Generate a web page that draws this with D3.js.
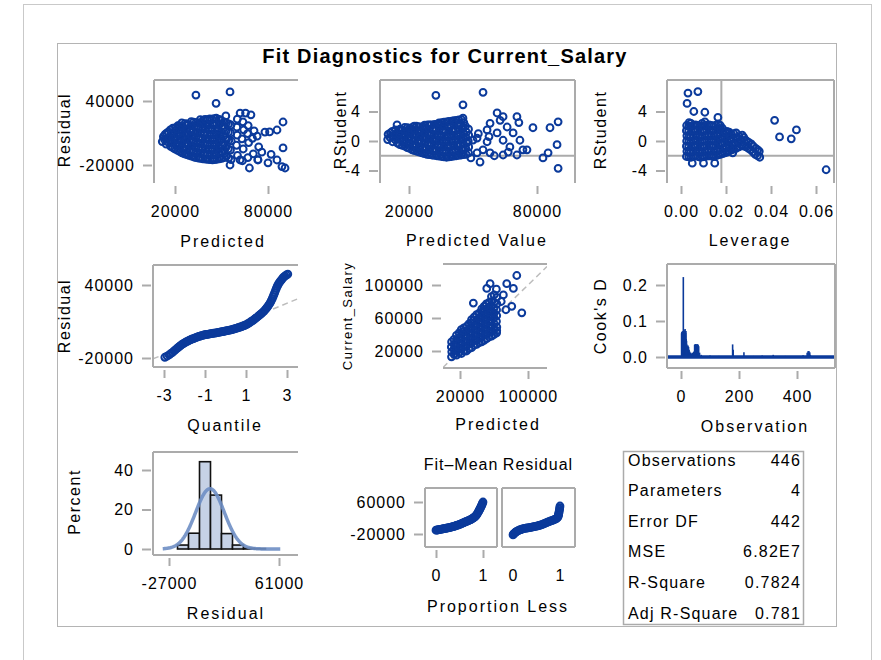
<!DOCTYPE html>
<html>
<head>
<meta charset="utf-8">
<script src="https://cdn.jsdelivr.net/npm/d3@7"></script>
<style>
  body { margin: 0; background: #fff; }
  text { font-family: "Liberation Sans", Arial, sans-serif; fill: #000; }
</style>
</head>
<body>
<svg id="chart" width="881" height="660"></svg>
<script>
// ---------------- data ----------------
const chartTitle = "Fit Diagnostics for Current_Salary";

// Residual vs predicted value: [predicted, residual]
const residByPredicted = [
  [11800,2000],[12500,6500],
  [14300,-500],[14800,4200],[14600,9800],
  [17200,-2500],[16800,2500],[17500,7800],[17000,13000],
  [19800,-5000],[20300,300],[20100,5200],[19700,10200],[20400,15000],
  [23200,-7500],[22800,-2300],[23100,2800],[22700,7600],[23300,12400],[22900,17000],
  [26100,-9500],[25800,-4600],[26300,400],[25900,5100],[26200,9900],[25700,14600],[26400,18800],
  [29000,-11000],[29300,-6200],[28800,-1500],[29200,3300],[28900,8100],[29400,12800],[28700,17500],
  [32100,-12500],[31800,-7800],[32300,-3000],[31900,1800],[32200,6500],[31700,11300],[32400,16000],[32000,20200],
  [35200,-13500],[34800,-8800],[35100,-4000],[34900,700],[35300,5400],[34700,10200],[35000,14900],[35400,19600],
  [38000,-14200],[38300,-9500],[37800,-4800],[38200,-100],[37900,4700],[38400,9400],[38100,14100],[37700,18800],[38300,22000],
  [41100,-14800],[40800,-10000],[41300,-5300],[40900,-600],[41200,4100],[40700,8900],[41400,13600],[41000,18300],[40800,22500],
  [44200,-15200],[43800,-10500],[44100,-5800],[43900,-1000],[44300,3700],[43700,8400],[44000,13100],[44400,17800],[43800,23000],
  [47100,-14600],[46800,-9900],[47300,-5200],[46900,-500],[47200,4200],[46700,9000],[47400,13700],[47000,18400],[46600,24000],
  [50200,-13800],[49800,-7500],[50300,-1800],[49900,4500],[50100,10500],[50400,16800],[49700,22000],
  [53100,-12000],[52700,-4000],[53300,3800],[52900,11500],[53200,19500],[52800,26000],
  [56200,-15000],[55800,-6000],[56300,2500],[55900,10000],[56100,17500],
  [60300,-11000],[59700,-1500],[60100,8000],[59900,15500],[60200,23000],
  [63500,-16000],[64000,-5000],[63200,4500],[64300,13000],[63800,20500],
  [67000,-13000],[67500,1000],[66800,9500],[67200,17000],
  [70500,-9500],[70000,5000],[71000,12000],
  [73500,-15000],[74000,-3000],[73000,7000],
  [13200,4000],[13600,8800],
  [15900,1000],[16100,5800],[15700,11000],
  [18600,-3800],[18400,400],[18700,5300],[18500,10300],[18600,14500],
  [21700,-6200],[21400,-1000],[21600,4000],[21500,8900],[21300,13700],[21800,16800],
  [24500,-8600],[24700,-3500],[24300,1500],[24600,6300],[24400,11200],[24700,16000],[24400,19500],
  [27600,-10300],[27400,-5400],[27700,-600],[27300,4200],[27600,9000],[27500,13800],[27800,18500],
  [30600,-11700],[30400,-7000],[30700,-2200],[30500,2600],[30600,7400],[30300,12100],[30700,16900],[30500,20600],
  [33600,-13000],[33400,-8300],[33700,-3500],[33500,1300],[33600,6000],[33300,10800],[33700,15500],[33500,19800],
  [36600,-13800],[36400,-9100],[36700,-4400],[36500,300],[36600,5100],[36400,9800],[36700,14500],[36500,19200],[36300,22500],
  [39600,-14500],[39400,-9700],[39700,-5000],[39500,-300],[39600,4400],[39300,9100],[39700,13900],[39500,18600],[39400,22800],
  [42600,-15000],[42400,-10200],[42700,-5500],[42500,-800],[42600,3900],[42300,8600],[42700,13300],[42500,18000],[42400,23200],
  [45600,-14900],[45400,-10200],[45700,-5500],[45500,-700],[45600,4000],[45300,8700],[45700,13400],[45500,18100],[45300,23500],
  [48600,-14200],[48400,-8700],[48700,-3500],[48500,2000],[48600,7500],[48300,13000],[48700,18000],[48500,22800],
  [51600,-13000],[51400,-6000],[51700,0],[51500,7500],[51300,14000],[51600,20500],
  [54600,-13500],[54400,-5000],[54700,3000],[54500,10800],[54600,18500],
  [33500,45600],[46500,37800],[55500,48500],[62000,28700],[65500,28700],[69000,27000],
  [89700,20300],[85800,12800],[78000,10900],[81000,11000],
  [89700,-4000],[85800,-15300],[91000,-22800],[89000,-21500],
  [55500,-20000],[68000,-22800],[73500,-15300],[62000,-15300],[80000,-18000],[76000,-8000],[82000,-10000]
];

// Studentized residual vs predicted value: [predicted, rstudent]
const rstudentByPredicted = [
  [10000,0.2],[10200,0.9],
  [12300,-0.1],[12500,0.6],[12200,1.3],
  [14600,-0.3],[14400,0.4],[14700,1.1],[14400,2.2],
  [16900,-0.6],[17100,0.1],[16800,0.8],[17000,1.5],
  [19200,-0.9],[19000,-0.2],[19400,0.5],[19100,1.2],[19300,1.8],
  [21500,-1.2],[21700,-0.5],[21300,0.2],[21600,0.9],[21400,1.6],[21800,1.9],
  [23800,-1.4],[23600,-0.7],[24000,0.0],[23700,0.7],[23900,1.4],[23500,2.0],
  [26100,-1.6],[26300,-0.9],[25900,-0.2],[26200,0.5],[26000,1.2],[26400,1.9],
  [28400,-1.8],[28200,-1.1],[28600,-0.4],[28300,0.3],[28500,1.0],[28100,1.7],[28700,2.2],
  [30700,-1.9],[30900,-1.2],[30500,-0.5],[30800,0.2],[30600,0.9],[31000,1.6],[30400,2.2],
  [33000,-2.0],[32800,-1.3],[33200,-0.6],[32900,0.1],[33100,0.8],[32700,1.5],[33300,2.3],
  [35300,-2.1],[35500,-1.4],[35100,-0.7],[35400,0.0],[35200,0.7],[35600,1.4],[35000,2.1],[35400,2.5],
  [37600,-2.2],[37400,-1.5],[37800,-0.8],[37500,-0.1],[37700,0.6],[37300,1.3],[37900,2.0],[37600,2.6],
  [39900,-2.1],[40100,-1.4],[39700,-0.7],[40000,0.0],[39800,0.7],[40200,1.4],[39600,2.1],[40000,2.7],
  [42200,-2.0],[42000,-1.3],[42400,-0.6],[42100,0.1],[42300,0.8],[41900,1.5],[42500,2.2],[42200,2.8],
  [44500,-1.9],[44700,-1.2],[44300,-0.5],[44600,0.2],[44400,0.9],[44800,1.6],[44200,2.3],[44600,2.9],
  [46800,-1.8],[46600,-1.0],[47000,-0.3],[46700,0.5],[46900,1.2],[46500,2.0],
  [11100,0.5],[11300,1.1],
  [13500,0.2],[13400,0.9],[13600,1.5],
  [15700,-0.5],[15800,0.2],[15600,0.9],[15800,1.6],
  [18000,-0.7],[18100,-0.05],[17900,0.65],[18100,1.35],[18000,1.85],
  [20300,-1.0],[20400,-0.35],[20200,0.35],[20400,1.05],[20300,1.7],
  [22600,-1.3],[22700,-0.6],[22500,0.1],[22700,0.8],[22600,1.5],[22500,2.0],
  [24900,-1.5],[25000,-0.8],[24800,-0.1],[25000,0.6],[24900,1.3],[24800,1.95],
  [27200,-1.7],[27300,-1.0],[27100,-0.3],[27300,0.4],[27200,1.1],[27100,1.8],[27300,2.15],
  [29500,-1.85],[29600,-1.15],[29400,-0.45],[29600,0.25],[29500,0.95],[29400,1.65],[29600,2.2],
  [31800,-1.95],[31900,-1.25],[31700,-0.55],[31900,0.15],[31800,0.85],[31700,1.55],[31900,2.25],
  [34100,-2.05],[34200,-1.35],[34000,-0.65],[34200,0.05],[34100,0.75],[34000,1.45],[34200,2.15],[34100,2.45],
  [36400,-2.15],[36500,-1.45],[36300,-0.75],[36500,-0.05],[36400,0.65],[36300,1.35],[36500,2.05],[36400,2.55],
  [38700,-2.15],[38800,-1.45],[38600,-0.75],[38800,-0.05],[38700,0.65],[38600,1.35],[38800,2.05],[38700,2.65],
  [41000,-2.05],[41100,-1.35],[40900,-0.65],[41100,0.05],[41000,0.75],[40900,1.45],[41100,2.15],[41000,2.75],
  [43300,-1.95],[43400,-1.25],[43200,-0.55],[43400,0.15],[43300,0.85],[43200,1.55],[43400,2.25],[43300,2.85],
  [45600,-1.85],[45700,-1.1],[45500,-0.4],[45700,0.35],[45600,1.05],[45500,1.8],[45700,2.5],
  [47900,-1.6],[48000,-0.8],[47800,0.0],[48000,0.8],[47900,1.6],
  [50000,0.13],[51900,-1.6],[54700,-1.2],[53300,-2.85],[56600,1.5],[58000,2.4],[61300,3.8],[62700,2.8],
  [61300,1.1],[64100,0.1],[66000,1.9],[67300,-0.8],[64100,3.3],[70600,3.3],[68800,1.1],[72000,0.1],
  [73400,-1.2],[70600,-1.9],[64100,-1.9],[58000,-1.6],[56600,-0.1],[51900,0.4],[45300,4.9],[45300,3.1],
  [32600,6.2],[54700,6.6],[78100,1.8],[86100,1.8],[89900,2.6],[89900,-3.7],[82800,-2.3],[85200,-1.6],
  [89400,-0.5],[75300,-1.2],[49000,-2.3],[60000,-2.0],[57500,0.6],[52500,1.0],[66500,-1.5],[71500,2.5]
];

// Studentized residual vs leverage: [leverage, rstudent]
const rstudentByLeverage = [
  [0.0024,-2.1],[0.0026,-1.4],[0.0024,-0.7],[0.0025,0.0],[0.0026,0.7],[0.0024,1.4],[0.0025,2.1],
  [0.0045,-2.2],[0.0044,-1.5],[0.0046,-0.8],[0.0045,-0.1],[0.0044,0.6],[0.0046,1.3],[0.0045,2.0],[0.0044,2.4],
  [0.0065,-2.0],[0.0066,-1.3],[0.0064,-0.6],[0.0065,0.1],[0.0066,0.8],[0.0064,1.5],[0.0065,2.2],
  [0.0085,-2.2],[0.0084,-1.5],[0.0086,-0.8],[0.0085,-0.1],[0.0084,0.6],[0.0086,1.3],[0.0085,2.0],
  [0.0105,-2.1],[0.0106,-1.4],[0.0104,-0.7],[0.0105,0.0],[0.0106,0.7],[0.0104,1.4],[0.0105,2.1],[0.0106,2.6],
  [0.0125,-2.0],[0.0124,-1.3],[0.0126,-0.6],[0.0125,0.1],[0.0124,0.8],[0.0126,1.5],[0.0125,2.2],
  [0.0145,-2.1],[0.0146,-1.4],[0.0144,-0.7],[0.0145,0.0],[0.0146,0.7],[0.0144,1.4],[0.0145,2.0],
  [0.0165,-1.9],[0.0164,-1.2],[0.0166,-0.5],[0.0165,0.2],[0.0164,0.9],[0.0166,1.6],[0.0165,2.3],
  [0.0185,-1.7],[0.0186,-1.0],[0.0184,-0.3],[0.0185,0.4],[0.0186,1.1],[0.0184,1.7],
  [0.0205,-1.5],[0.0204,-0.8],[0.0206,-0.1],[0.0205,0.6],[0.0204,1.3],
  [0.0225,-1.2],[0.0226,-0.5],[0.0224,0.2],[0.0225,0.9],
  [0.0245,-1.0],[0.0244,-0.3],[0.0246,0.4],[0.0245,1.1],
  [0.0270,-0.6],[0.0268,0.1],[0.0272,0.8],
  [0.0290,-0.8],[0.0292,0.0],
  [0.0310,-1.2],[0.0312,-0.4],
  [0.0330,-1.8],[0.0332,-1.0],
  [0.0350,-2.2],[0.0348,-1.4],
  [0.0035,-2.15],[0.0036,-1.45],[0.0034,-0.75],[0.0035,-0.05],[0.0036,0.65],[0.0034,1.35],[0.0035,2.05],[0.0036,2.5],
  [0.0055,-2.1],[0.0054,-1.4],[0.0056,-0.7],[0.0055,0.0],[0.0054,0.7],[0.0056,1.4],[0.0055,2.1],
  [0.0075,-2.1],[0.0076,-1.4],[0.0074,-0.7],[0.0075,0.0],[0.0076,0.7],[0.0074,1.4],[0.0075,2.1],
  [0.0095,-2.15],[0.0094,-1.45],[0.0096,-0.75],[0.0095,-0.05],[0.0094,0.65],[0.0096,1.35],[0.0095,2.05],[0.0094,2.4],
  [0.0115,-2.05],[0.0116,-1.35],[0.0114,-0.65],[0.0115,0.05],[0.0116,0.75],[0.0114,1.45],[0.0115,2.15],
  [0.0135,-2.05],[0.0134,-1.35],[0.0136,-0.65],[0.0135,0.05],[0.0134,0.75],[0.0136,1.45],[0.0135,2.1],
  [0.0155,-2.0],[0.0156,-1.3],[0.0154,-0.6],[0.0155,0.1],[0.0156,0.8],[0.0154,1.5],[0.0155,2.15],
  [0.0175,-1.8],[0.0174,-1.1],[0.0176,-0.4],[0.0175,0.3],[0.0174,1.0],[0.0176,1.65],[0.0175,2.1],
  [0.0195,-1.6],[0.0196,-0.9],[0.0194,-0.2],[0.0195,0.5],[0.0196,1.2],
  [0.0215,-1.35],[0.0214,-0.65],[0.0216,0.05],[0.0215,0.75],[0.0214,1.2],
  [0.0235,-1.1],[0.0236,-0.4],[0.0234,0.3],[0.0235,1.0],
  [0.0258,-0.8],[0.0256,-0.1],[0.0259,0.6],
  [0.0280,-0.7],[0.0281,0.05],[0.0279,0.5],
  [0.0300,-1.0],[0.0301,-0.2],
  [0.0320,-1.5],[0.0321,-0.7],
  [0.0340,-2.0],[0.0341,-1.2],
  [0.0031,6.5],[0.0075,6.7],[0.0027,5.1],[0.0106,3.9],[0.0164,3.2],[0.0057,4.0],
  [0.0416,2.8],[0.0513,1.5],[0.0438,0.55],[0.0490,0.3],[0.0645,-3.9],
  [0.0050,-3.0],[0.0100,-3.0],[0.0150,-3.0],[0.0230,-1.6]
];

// Normal quantile plot of residuals: [quantile, residual]
const residualQuantiles = [
  [-2.96,-19400],[-2.85,-18400],[-2.75,-17500],[-2.68,-16500],[-2.6,-15600],[-2.52,-14400],
  [-2.45,-13300],[-2.38,-12400],[-2.32,-11500],[-2.26,-10700],[-2.2,-9900],[-2.14,-9100],
  [-2.08,-8400],[-2.02,-7800],[-1.96,-7200],[-1.9,-6600],[-1.84,-6100],[-1.78,-5600],
  [-1.72,-5100],[-1.66,-4600],[-1.6,-4200],[-1.54,-3800],[-1.48,-3400],[-1.42,-3000],
  [-1.36,-2700],[-1.3,-2300],[-1.24,-2000],[-1.18,-1700],[-1.12,-1400],[-1.06,-1100],
  [-1.0,-900],[-0.94,-700],[-0.88,-500],[-0.82,-300],[-0.76,-100],[-0.7,50],
  [-0.64,200],[-0.58,350],[-0.52,500],[-0.46,650],[-0.4,800],[-0.34,1000],
  [-0.28,1200],[-0.22,1400],[-0.16,1600],[-0.1,1800],[-0.04,2000],[0.02,2250],
  [0.08,2500],[0.14,2700],[0.2,2900],[0.26,3150],[0.32,3400],[0.38,3700],
  [0.44,4000],[0.5,4300],[0.56,4600],[0.62,4900],[0.68,5200],[0.74,5550],
  [0.8,5900],[0.86,6300],[0.92,6700],[0.98,7200],[1.04,7700],[1.1,8300],
  [1.16,8900],[1.22,9600],[1.28,10300],[1.34,11000],[1.4,11800],[1.46,12500],
  [1.52,13300],[1.58,14100],[1.64,15000],[1.7,15800],[1.76,16700],[1.82,17600],
  [1.88,18600],[1.94,19800],[2.0,21000],[2.05,22100],[2.1,23300],[2.15,24600],
  [2.2,26000],[2.24,27400],[2.28,28800],[2.32,30400],[2.36,32000],[2.4,33700],
  [2.44,35500],[2.48,37200],[2.52,38800],[2.56,40100],[2.6,41400],[2.65,42500],
  [2.7,43600],[2.75,44700],[2.8,45800],[2.85,46600],[2.9,47400],[2.97,48200],[3.04,49000]
];
// reference line drawn through the normal quantile plot
const qqLineIntercept = 4000, qqLineSlope = 7000;

// Observed salary vs predicted value: [predicted, observed]
const observedByPredicted = [
  [10000,13000],[10300,19000],[9800,25000],[10100,31000],
  [15900,15000],[16200,21000],[15700,27000],[16000,33000],[15800,39000],
  [21800,17000],[21600,23000],[22000,29000],[21700,35000],[21900,41000],[21500,46000],
  [27700,20000],[27900,26000],[27500,32000],[27800,38000],[27600,44000],[28000,50000],
  [33600,24000],[33400,30000],[33800,36000],[33500,42000],[33700,48000],[33300,54000],[33600,58000],
  [39500,28000],[39700,34000],[39300,40000],[39600,46000],[39400,52000],[39800,58000],[39500,64000],
  [45400,31000],[45200,37000],[45600,43000],[45300,49000],[45500,55000],[45100,61000],[45400,67000],[45600,71000],
  [51300,35000],[51500,41000],[51100,47000],[51400,53000],[51200,59000],[51600,65000],[51300,71000],[51000,77000],
  [57200,38000],[57000,44000],[57400,50000],[57100,56000],[57300,62000],[56900,68000],[57200,74000],[57500,80000],[57000,86000],
  [63100,42000],[63300,49000],[62900,56000],[63200,63000],[63000,70000],[63400,77000],[63100,85000],[62800,95000],
  [13000,16000],[12800,22000],[13100,28000],[12900,34000],
  [18900,18000],[18700,24000],[19000,30000],[18800,36000],[18900,42000],
  [24800,20000],[24600,26000],[24900,32000],[24700,38000],[24800,44000],[24600,48000],
  [30700,23000],[30500,29000],[30800,35000],[30600,41000],[30700,47000],[30500,53000],
  [36600,27000],[36400,33000],[36700,39000],[36500,45000],[36600,51000],[36400,57000],[36600,61000],
  [42500,30000],[42300,36000],[42600,42000],[42400,48000],[42500,54000],[42300,60000],[42500,66000],
  [48400,33000],[48200,39000],[48500,45000],[48300,51000],[48400,57000],[48200,63000],[48400,69000],[48300,74000],
  [54300,37000],[54100,43000],[54400,49000],[54200,55000],[54300,61000],[54100,67000],[54300,73000],[54200,79000],
  [60200,40000],[60000,46000],[60300,53000],[60100,60000],[60200,66000],[60000,72000],[60200,79000],[60100,88000],
  [55400,101600],[51500,95800],[75000,101600],[86800,111500],[82800,95800],[71000,88000],
  [35700,78100],[49500,74200],[80900,74200],[92700,66300],[63200,44800],[68500,80000],[74000,70000]
];

// Cook's D by observation number: [observation, D]
const cooksD = [
  [2,0.066],[3,0.070],[4,0.058],[5,0.068],[6,0.072],[7,0.061],[8,0.222],[9,0.070],[10,0.075],
  [11,0.064],[12,0.070],[13,0.073],[14,0.078],[15,0.060],[16,0.067],[17,0.072],[18,0.050],
  [19,0.045],[20,0.035],[22,0.030],[24,0.032],[26,0.028],[28,0.020],[30,0.015],[33,0.012],
  [36,0.010],[40,0.012],[44,0.015],[47,0.034],[49,0.036],[51,0.035],[53,0.033],[55,0.036],
  [57,0.035],[59,0.034],[61,0.030],[64,0.012],[70,0.006],[100,0.004],[130,0.003],
  [178,0.035],[180,0.020],[217,0.013],[250,0.003],[280,0.004],[318,0.006],[360,0.003],
  [390,0.003],[421,0.005],[435,0.012],[438,0.016],[441,0.017],[444,0.013],[446,0.006]
];

// Residual histogram: bin edges and percent of observations in each bin
const histEdges = [-20200, -11400, -2600, 6200, 15000, 23800, 32600, 41400, 50200];
const histPercent = [2.0, 8.0, 44.2, 27.3, 7.8, 2.0, 0.4, 0.2];
const normalMean = 5800, normalSd = 11500;

// Residual-fit spread: [proportion less, value]
const fitMinusMean = [
  [0.0,-10500],[0.015,-10100],[0.03,-9800],[0.045,-9500],[0.06,-9200],[0.08,-8750],[0.1,-8300],
  [0.12,-7850],[0.14,-7400],[0.16,-6900],[0.18,-6400],[0.2,-5950],[0.22,-5500],[0.24,-5000],
  [0.26,-4500],[0.28,-3900],[0.3,-3300],[0.32,-2750],[0.34,-2200],[0.36,-1550],[0.38,-900],
  [0.4,-150],[0.42,600],[0.44,1400],[0.46,2200],[0.48,3050],[0.5,3900],[0.52,4850],
  [0.54,5800],[0.56,6900],[0.58,8000],[0.6,9000],[0.62,10000],[0.64,11000],[0.66,12000],
  [0.68,13000],[0.7,14000],[0.72,15100],[0.74,16200],[0.76,17500],[0.78,18800],[0.795,20100],
  [0.81,21500],[0.825,23000],[0.84,24500],[0.855,26700],[0.87,29000],[0.885,32000],[0.9,35000],
  [0.91,37200],[0.92,39500],[0.93,41700],[0.94,44000],[0.95,46500],[0.96,49000],[0.97,51500],
  [0.98,54000],[0.99,57000],[1.0,60000]
];
const residualSpread = [
  [0.0,-22000],[0.01,-20500],[0.02,-19000],[0.035,-17500],[0.05,-16000],[0.065,-14700],
  [0.08,-13500],[0.1,-12200],[0.12,-11000],[0.14,-10000],[0.16,-9000],[0.18,-8200],[0.2,-7500],
  [0.225,-6700],[0.25,-6000],[0.275,-5500],[0.3,-5000],[0.325,-4500],[0.35,-4000],[0.375,-3500],
  [0.4,-3000],[0.425,-2400],[0.45,-1800],[0.475,-1150],[0.5,-500],[0.525,350],[0.55,1200],
  [0.575,2100],[0.6,3000],[0.625,4200],[0.65,5500],[0.675,6700],[0.7,8000],[0.725,9200],
  [0.75,10500],[0.775,11500],[0.8,12500],[0.825,13500],[0.85,14500],[0.875,15700],[0.9,17000],
  [0.92,18500],[0.94,20000],[0.95,22000],[0.96,24000],[0.965,26500],[0.97,29000],[0.975,32000],
  [0.98,35000],[0.985,38500],[0.99,42000],[0.995,46000],[1.0,50000]
];

// Fit statistics
const statLabels = ["Observations", "Parameters", "Error DF", "MSE", "R-Square", "Adj R-Square"];
const statValues = ["446", "4", "442", "6.82E7", "0.7824", "0.781"];

// ---------------- drawing ----------------
const svg = d3.select("#chart");
const BLUE = "#0b3a9b";
const WALL = "#ababab";
const FONT = '"Liberation Sans", Arial, sans-serif';

// page frame and graph border
svg.append("rect").attr("x", 23.5).attr("y", 4.5).attr("width", 848).attr("height", 720)
  .attr("fill", "#fff").attr("stroke", "#c9c9c9");
svg.append("rect").attr("x", 57.5).attr("y", 43.5).attr("width", 779).attr("height", 583)
  .attr("fill", "none").attr("stroke", "#b4b4b4");

svg.append("text").attr("x", 445).attr("y", 63).attr("text-anchor", "middle")
  .attr("font-size", 20).attr("font-weight", "bold").style("letter-spacing", "1.2px")
  .text(chartTitle);

let clipId = 0;
function panel(box, sides) {
  const g = svg.append("g");
  const id = "clip" + (clipId++);
  g.append("clipPath").attr("id", id).append("rect")
    .attr("x", box.l).attr("y", box.t).attr("width", box.r - box.l).attr("height", box.b - box.t);
  const seg = {
    top: [box.l, box.t, box.r, box.t], bottom: [box.l, box.b, box.r, box.b],
    left: [box.l, box.t, box.l, box.b], right: [box.r, box.t, box.r, box.b]
  };
  const plot = g.append("g").attr("clip-path", `url(#${id})`);
  const wall = g.append("g");
  sides.forEach(s => {
    const [x1, y1, x2, y2] = seg[s];
    wall.append("line").attr("x1", x1).attr("y1", y1).attr("x2", x2).attr("y2", y2)
      .attr("stroke", WALL).attr("stroke-width", 2);
  });
  return { g, plot, box };
}

function styleAxis(ga) {
  ga.attr("font-size", null).attr("font-family", null);
  ga.select(".domain").remove();
  ga.selectAll(".tick line").attr("stroke", WALL).attr("stroke-width", 2);
  ga.selectAll(".tick text").attr("font-size", 16).attr("fill", "#000")
    .attr("font-family", FONT).style("letter-spacing", "1px");
}

const plain = d => String(d);

function xAxis(p, scale, ticks, fmt, tickLen = 8) {
  const ax = d3.axisBottom(scale).tickValues(ticks).tickFormat(fmt || plain)
    .tickSize(tickLen).tickPadding(tickLen ? 12 : 20);
  const ga = p.g.append("g").attr("transform", `translate(0,${p.box.b + 3})`).call(ax);
  styleAxis(ga);
}
function yAxis(p, scale, ticks, fmt) {
  const ax = d3.axisLeft(scale).tickValues(ticks).tickFormat(fmt || plain).tickSize(9).tickPadding(8);
  const ga = p.g.append("g").attr("transform", `translate(${p.box.l - 2},0)`).call(ax);
  styleAxis(ga);
}
function xTitle(text, x, y) {
  svg.append("text").attr("x", x).attr("y", y).attr("dy", "0.35em").attr("text-anchor", "middle")
    .attr("font-size", 16).style("letter-spacing", "2px").text(text);
}
function yTitle(text, x, y, size = 16) {
  svg.append("text").attr("transform", `translate(${x},${y}) rotate(-90)`).attr("dy", "0.35em")
    .attr("text-anchor", "middle").attr("font-size", size).style("letter-spacing", "1.5px").text(text);
}
function circles(p, data, xs, ys) {
  p.plot.selectAll(null).data(data).join("circle")
    .attr("cx", d => xs(d[0])).attr("cy", d => ys(d[1])).attr("r", 3.4)
    .attr("fill", "none").attr("stroke", BLUE).attr("stroke-width", 2);
}
function hRef(p, ys, v) {
  p.plot.append("line").attr("x1", p.box.l).attr("x2", p.box.r).attr("y1", ys(v)).attr("y2", ys(v))
    .attr("stroke", WALL).attr("stroke-width", 2);
}
function vRef(p, xs, v) {
  p.plot.append("line").attr("y1", p.box.t).attr("y2", p.box.b).attr("x1", xs(v)).attr("x2", xs(v))
    .attr("stroke", WALL).attr("stroke-width", 2);
}
function diagRef(p, xs, ys, slope, intercept) {
  const [x0, x1] = [xs.invert(p.box.l), xs.invert(p.box.r)];
  p.plot.append("line").attr("x1", xs(x0)).attr("y1", ys(intercept + slope * x0))
    .attr("x2", xs(x1)).attr("y2", ys(intercept + slope * x1))
    .attr("stroke", "#bcbcbc").attr("stroke-width", 1.5).attr("stroke-dasharray", "6,4");
}

// 1. Residual by predicted value
{
  const p = panel({ l: 154, t: 80, r: 298, b: 183 }, ["top", "left"]);
  const x = d3.scaleLinear().domain([20000, 80000]).range([175, 268]);
  const y = d3.scaleLinear().domain([-20000, 40000]).range([165, 101]);
  circles(p, residByPredicted, x, y);
  xAxis(p, x, [20000, 80000]);
  yAxis(p, y, [-20000, 40000]);
  xTitle("Predicted", 223, 241);
  yTitle("Residual", 64, 130);
}

// 2. RStudent by predicted value
{
  const p = panel({ l: 380, t: 80, r: 575, b: 183 }, ["top", "left", "right"]);
  const x = d3.scaleLinear().domain([20000, 80000]).range([409, 537]);
  const y = d3.scaleLinear().domain([-4, 4]).range([170.5, 111.5]);
  hRef(p, y, -2);
  circles(p, rstudentByPredicted, x, y);
  xAxis(p, x, [20000, 80000]);
  yAxis(p, y, [-4, 0, 4]);
  xTitle("Predicted Value", 477, 240);
  yTitle("RStudent", 340, 130);
}

// 3. RStudent by leverage
{
  const p = panel({ l: 667, t: 80, r: 834, b: 183 }, ["top", "left", "right"]);
  const x = d3.scaleLinear().domain([0, 0.04]).range([681, 771]);
  const y = d3.scaleLinear().domain([-4, 4]).range([170.5, 111.5]);
  hRef(p, y, -2);
  vRef(p, x, 2 * 4 / 446);
  circles(p, rstudentByLeverage, x, y);
  xAxis(p, x, [0, 0.02, 0.04, 0.06], d3.format(".2f"));
  yAxis(p, y, [-4, 0, 4]);
  xTitle("Leverage", 750, 240);
  yTitle("RStudent", 600, 130);
}

// 4. Q-Q plot of residuals
{
  const p = panel({ l: 153, t: 265, r: 298, b: 367 }, ["top", "left", "bottom"]);
  const x = d3.scaleLinear().domain([-3, 3]).range([164, 287]);
  const y = d3.scaleLinear().domain([-20000, 40000]).range([358, 285]);
  diagRef(p, x, y, qqLineSlope, qqLineIntercept);
  circles(p, residualQuantiles, x, y);
  xAxis(p, x, [-3, -1, 1, 3]);
  yAxis(p, y, [-20000, 40000]);
  xTitle("Quantile", 225, 425);
  yTitle("Residual", 64, 316);
}

// 5. Observed by predicted
{
  const p = panel({ l: 443, t: 264, r: 547, b: 368 }, ["top", "bottom"]);
  const x = d3.scaleLinear().domain([20000, 100000]).range([460, 528]);
  const y = d3.scaleLinear().domain([20000, 100000]).range([351, 285]);
  diagRef(p, x, y, 1, 0);
  circles(p, observedByPredicted, x, y);
  xAxis(p, x, [20000, 100000]);
  yAxis(p, y, [20000, 60000, 100000]);
  xTitle("Predicted", 498, 424);
  yTitle("Current_Salary", 347, 316, 13);
}

// 6. Cook's D by observation
{
  const p = panel({ l: 667, t: 264, r: 835, b: 368 }, ["top", "left", "right", "bottom"]);
  const x = d3.scaleLinear().domain([0, 400]).range([681, 797]);
  const y = d3.scaleLinear().domain([0, 0.2]).range([357, 285]);
  p.plot.selectAll(null).data(cooksD).join("line")
    .attr("x1", d => x(d[0])).attr("x2", d => x(d[0]))
    .attr("y1", y(0)).attr("y2", d => y(d[1]))
    .attr("stroke", BLUE).attr("stroke-width", 1.6);
  p.plot.append("line").attr("x1", p.box.l).attr("x2", p.box.r).attr("y1", y(0)).attr("y2", y(0))
    .attr("stroke", BLUE).attr("stroke-width", 3.5);
  xAxis(p, x, [0, 200, 400]);
  yAxis(p, y, [0, 0.1, 0.2], d3.format(".1f"));
  xTitle("Observation", 755, 426);
  yTitle("Cook's D", 600, 316);
}

// 7. Residual histogram with normal density
{
  const p = panel({ l: 153, t: 452, r: 298, b: 555 }, ["top", "left", "bottom"]);
  const x = d3.scaleLinear().domain([-27000, 61000]).range([169, 279]);
  const y = d3.scaleLinear().domain([0, 40]).range([549, 470]);
  const bins = histPercent.map((v, i) => ({ x0: histEdges[i], x1: histEdges[i + 1], v }));
  p.plot.selectAll(null).data(bins).join("rect")
    .attr("x", d => x(d.x0)).attr("width", d => x(d.x1) - x(d.x0))
    .attr("y", d => y(d.v)).attr("height", d => y(0) - y(d.v))
    .attr("fill", "#c6d2e6").attr("stroke", "#111").attr("stroke-width", 1.6);
  const binW = histEdges[1] - histEdges[0];
  const curveX = d3.range(-32000, 62001, 500);
  const dens = v => 100 * binW / (normalSd * Math.sqrt(2 * Math.PI)) *
    Math.exp(-0.5 * ((v - normalMean) / normalSd) ** 2);
  p.plot.append("path").datum(curveX)
    .attr("d", d3.line().x(v => x(v)).y(v => y(dens(v))))
    .attr("fill", "none").attr("stroke", "#6e8ec4").attr("stroke-width", 3.5).attr("opacity", 0.9);
  xAxis(p, x, [-27000, 61000]);
  yAxis(p, y, [0, 20, 40]);
  xTitle("Residual", 226, 613);
  yTitle("Percent", 74, 502);
}

// 8. Residual-fit spread
{
  const y = d3.scaleLinear().domain([-20000, 60000]).range([534, 502]);
  const pa = panel({ l: 425, t: 488, r: 497, b: 547 }, ["top", "left", "right", "bottom"]);
  const xa = d3.scaleLinear().domain([0, 1]).range([436, 483]);
  circles(pa, fitMinusMean, xa, y);
  xAxis(pa, xa, [0, 1]);
  yAxis(pa, y, [-20000, 60000]);
  const pb = panel({ l: 502, t: 488, r: 575, b: 547 }, ["top", "left", "right", "bottom"]);
  const xb = d3.scaleLinear().domain([0, 1]).range([513, 560]);
  circles(pb, residualSpread, xb, y);
  xAxis(pb, xb, [0, 1], null, 0);
  svg.append("text").attr("x", 461).attr("y", 464).attr("dy", "0.35em").attr("text-anchor", "middle")
    .attr("font-size", 16).style("letter-spacing", "1px").text("Fit–Mean");
  svg.append("text").attr("x", 538).attr("y", 464).attr("dy", "0.35em").attr("text-anchor", "middle")
    .attr("font-size", 16).style("letter-spacing", "1px").text("Residual");
  xTitle("Proportion Less", 498, 606);
}

// 9. Fit statistics table
{
  const box = { l: 623, t: 451, r: 803, b: 624 };
  svg.append("rect").attr("x", box.l + 0.5).attr("y", box.t + 0.5)
    .attr("width", box.r - box.l).attr("height", box.b - box.t)
    .attr("fill", "none").attr("stroke", WALL).attr("stroke-width", 1.5);
  const row = d3.scalePoint().domain(statLabels).range([460, 613]);
  const g = svg.append("g");
  g.selectAll(null).data(statLabels).join("text")
    .attr("x", 628).attr("y", d => row(d)).attr("dy", "0.35em")
    .attr("font-size", 16).style("letter-spacing", "1.2px").text(d => d);
  g.selectAll(null).data(statLabels).join("text")
    .attr("x", 801).attr("y", d => row(d)).attr("dy", "0.35em").attr("text-anchor", "end")
    .attr("font-size", 16).style("letter-spacing", "1.2px").text((d, i) => statValues[i]);
}
</script>
</body>
</html>
